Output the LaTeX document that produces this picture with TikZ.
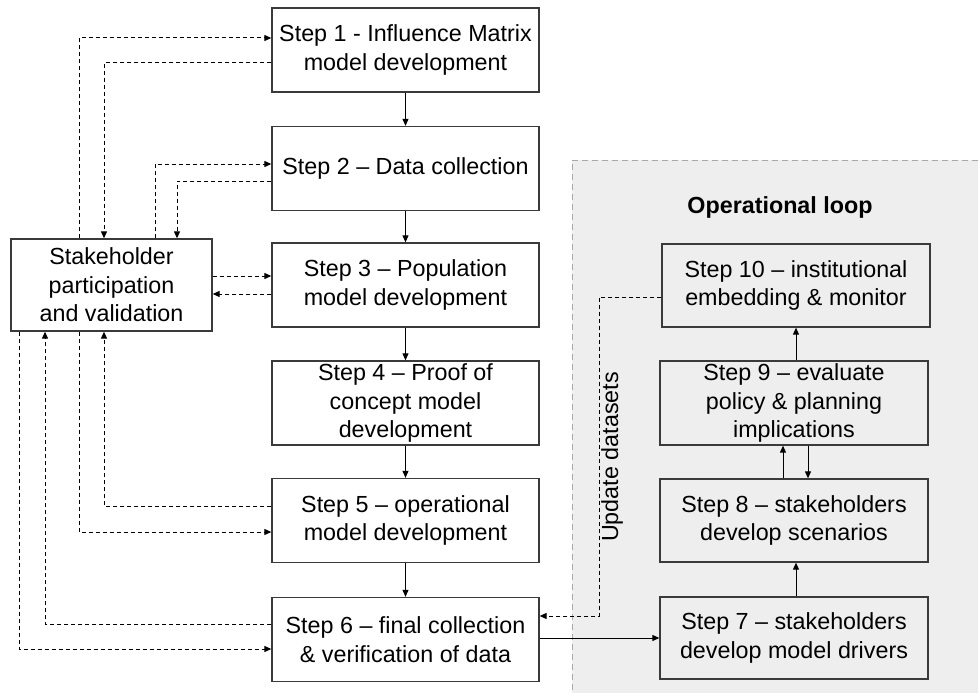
\documentclass[tikz,border=0pt]{standalone}
\usepackage{fontspec}
\setmainfont{Liberation Sans}
\usetikzlibrary{arrows.meta}
\definecolor{loopbg}{HTML}{EEEEEE}
\definecolor{loopedge}{HTML}{A8A8A8}
\definecolor{boxedge}{HTML}{3A3A3A}
\begin{document}
\begin{tikzpicture}[x=1pt,y=-1pt,
  font=\fontsize{23.3}{28.5}\selectfont,
  stepbox/.style={draw=boxedge,line width=1.3pt,fill=white,align=center,
    minimum width=267pt,minimum height=84pt,inner sep=0pt},
  loopbox/.style={stepbox,fill=loopbg,minimum width=268pt},
  tip/.style={-{Triangle[length=7pt,width=6pt]}},
  flow/.style={tip,line width=1pt},
  fb/.style={tip,line width=1pt,dash pattern=on 4pt off 3pt}]
\useasboundingbox (0,0) rectangle (978,693);

% operational loop panel
\fill[loopbg] (572,160) rectangle (978,693);
\draw[loopedge,line width=1pt,dash pattern=on 6pt off 4pt] (978,160) -- (572,160) -- (572,693);
\node[font=\fontsize{23.3}{28.5}\selectfont\bfseries] (title) at (780,207) {Operational loop};

% main development column
\node[stepbox] (s1) at (405.5,50) {Step 1 - Influence Matrix\\model development};
\node[stepbox] (s2) at (405.5,168.5) {Step 2 -- Data collection};
\node[stepbox] (s3) at (405.5,285) {Step 3 -- Population\\model development};
\node[stepbox] (s4) at (405.5,403) {Step 4 -- Proof of\\concept model\\development};
\node[stepbox] (s5) at (405.5,520.5) {Step 5 -- operational\\model development};
\node[stepbox] (s6) at (405.5,639.5) {Step 6 -- final collection\\\& verification of data};

% stakeholder box
\node[stepbox,minimum width=201pt,minimum height=92pt] (sh) at (111.5,285)
  {Stakeholder\\participation\\and validation};

% operational loop steps
\node[loopbox,minimum height=83pt] (s10) at (796,285.5) {Step 10 -- institutional\\embedding \& monitor};
\node[loopbox] (s9) at (794,403) {Step 9 -- evaluate\\policy \& planning\\implications};
\node[loopbox,minimum height=83pt] (s8) at (794,520.5) {Step 8 -- stakeholders\\develop scenarios};
\node[loopbox,minimum height=82pt] (s7) at (794,638) {Step 7 -- stakeholders\\develop model drivers};

% solid flow
\draw[flow] (s1) -- (s2);
\draw[flow] (s2) -- (s3);
\draw[flow] (s3) -- (s4);
\draw[flow] (s4) -- (s5);
\draw[flow] (s5) -- (s6);
\draw[flow] (s6.east |- 0,638) -- (s7.west |- 0,638);
\draw[flow] (s7.north -| 796,0) -- (s8.south -| 796,0);
\draw[flow] (s8.north -| 783,0) -- (s9.south -| 783,0);
\draw[flow] (s9.south -| 808,0) -- (s8.north -| 808,0);
\draw[flow] (s9.north -| 796,0) -- (s10.south -| 796,0);

% stakeholder feedback links
\draw[fb] (sh.north -| 79,0) |- (s1.west |- 0,38);
\draw[fb] (s1.west |- 0,63) -| (sh.north -| 104,0);
\draw[fb] (sh.north -| 155,0) |- (s2.west |- 0,164);
\draw[fb] (s2.west |- 0,181) -| (sh.north -| 177,0);
\draw[fb] (sh.east |- 0,276) -- (s3.west |- 0,276);
\draw[fb] (s3.west |- 0,294) -- (sh.east |- 0,294);
\draw[fb] (s5.west |- 0,506) -| (sh.south -| 104,0);
\draw[fb] (sh.south -| 79,0) |- (s5.west |- 0,532);
\draw[fb] (s6.west |- 0,624) -| (sh.south -| 45,0);
\draw[fb] (sh.south -| 19,0) |- (s6.west |- 0,649);

% dataset update from monitoring
\coordinate (upd) at (599,297);
\draw[fb] (s10.west |- upd) -- (upd) |- (s6.east |- 0,616);
\node[rotate=90] (updlbl) at (612,457) {Update datasets};
\end{tikzpicture}
\end{document}
